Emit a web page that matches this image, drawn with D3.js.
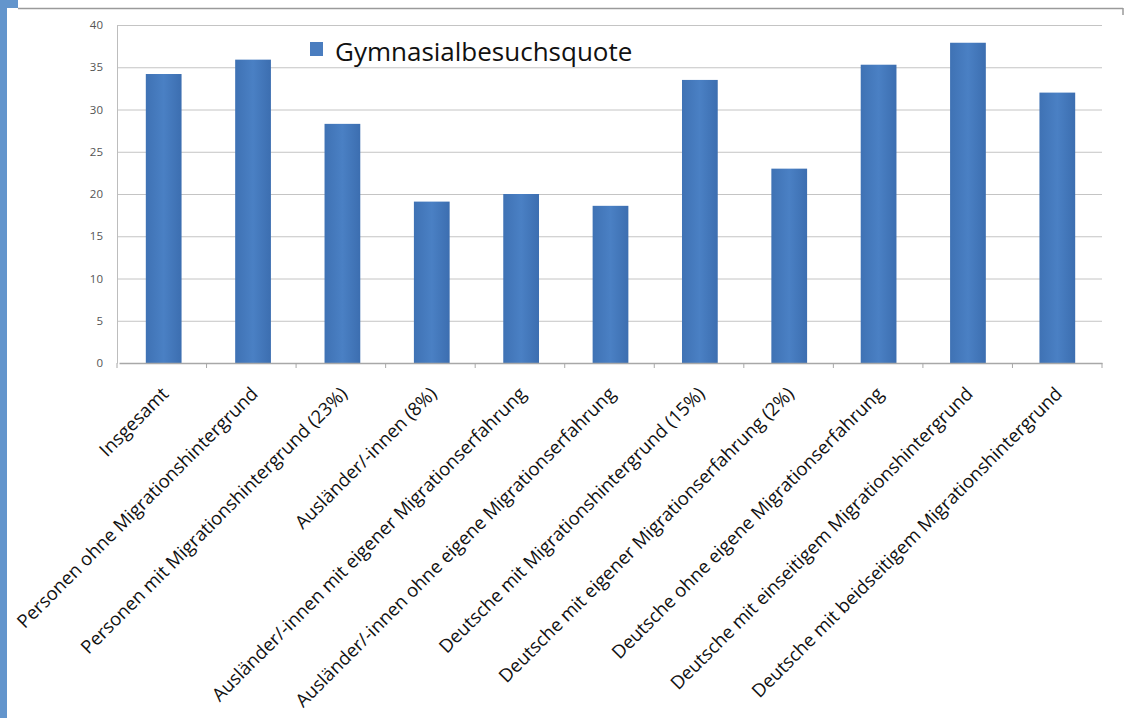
<!DOCTYPE html>
<html>
<head>
<meta charset="utf-8">
<script src="https://cdn.jsdelivr.net/npm/d3@7"></script>
<style>
  body { margin: 0; background: #fff; }
  svg { display: block; }
</style>
</head>
<body>
<svg id="chart" width="1136" height="718"></svg>
<script>
// data
const categories = [
  "Insgesamt",
  "Personen ohne Migrationshintergrund",
  "Personen mit Migrationshintergrund (23%)",
  "Ausländer/-innen (8%)",
  "Ausländer/-innen mit eigener Migrationserfahrung",
  "Ausländer/-innen ohne eigene Migrationserfahrung",
  "Deutsche mit Migrationshintergrund (15%)",
  "Deutsche mit eigener Migrationserfahrung (2%)",
  "Deutsche ohne eigene Migrationserfahrung",
  "Deutsche mit einseitigem Migrationshintergrund",
  "Deutsche mit beidseitigem Migrationshintergrund"
];
const values = [34.2, 35.9, 28.3, 19.1, 20.0, 18.6, 33.5, 23.0, 35.3, 37.9, 32.0];
const yTicks = [0, 5, 10, 15, 20, 25, 30, 35, 40];
const seriesName = "Gymnasialbesuchsquote";

const svg = d3.select("#chart");
const m = { left: 117, right: 1102, top: 25, bottom: 363 };

// frame bits from the screenshot
svg.append("rect").attr("x", 0).attr("y", 0).attr("width", 18).attr("height", 8).attr("fill", "#6395cc");
svg.append("rect").attr("x", 0).attr("y", 0).attr("width", 7).attr("height", 718).attr("fill", "#6395cc");
svg.append("line").attr("x1", 18).attr("x2", 1123).attr("y1", 8.5).attr("y2", 8.5)
  .attr("stroke", "#9a9a9a").attr("stroke-width", 1.5);
svg.append("line").attr("x1", 1123).attr("x2", 1123).attr("y1", 8).attr("y2", 15)
  .attr("stroke", "#9a9a9a").attr("stroke-width", 1.5);

const x = d3.scaleBand().domain(categories).range([m.left + 2, m.right]).paddingInner(0.6).paddingOuter(0.3);
const y = d3.scaleLinear().domain([0, 40]).range([m.bottom, m.top]);

// gridlines
svg.append("g")
  .selectAll("line").data(yTicks.filter(t => t > 0)).join("line")
  .attr("x1", m.left).attr("x2", m.right)
  .attr("y1", d => y(d) + 0.5).attr("y2", d => y(d) + 0.5)
  .attr("stroke", "#c4c4c4").attr("stroke-width", 1);

// y axis
const yAxis = svg.append("g").attr("transform", `translate(${m.left},0)`)
  .call(d3.axisLeft(y).tickValues(yTicks).tickSize(0).tickPadding(14));
yAxis.select(".domain").attr("stroke", "#bdbdbd");
yAxis.selectAll("text").attr("font-family", "Open Sans, sans-serif").attr("font-size", 11.5).attr("fill", "#555");

// bars
const grad = svg.append("defs").append("linearGradient").attr("id", "barGrad")
  .attr("x1", 0).attr("x2", 1).attr("y1", 0).attr("y2", 0);
grad.append("stop").attr("offset", 0).attr("stop-color", "#3f72b4");
grad.append("stop").attr("offset", 0.5).attr("stop-color", "#4a80c4");
grad.append("stop").attr("offset", 1).attr("stop-color", "#3c6eb0");

svg.append("g").selectAll("rect").data(values).join("rect")
  .attr("x", (d, i) => x(categories[i]))
  .attr("width", x.bandwidth())
  .attr("y", d => y(d))
  .attr("height", d => y(0) - y(d))
  .attr("fill", "url(#barGrad)");

// x axis
const xAxis = svg.append("g").attr("transform", `translate(0,${m.bottom})`)
  .call(d3.axisBottom(x).tickSize(0).tickFormat(""));
xAxis.select(".domain").attr("stroke", "#a8a8a8").attr("stroke-width", 1.5);
// tick marks between categories
svg.append("g").selectAll("line").data(d3.range(categories.length + 1)).join("line")
  .attr("x1", i => m.left + i * (m.right - m.left) / categories.length)
  .attr("x2", i => m.left + i * (m.right - m.left) / categories.length)
  .attr("y1", m.bottom).attr("y2", m.bottom + 5)
  .attr("stroke", "#a8a8a8");

svg.append("g").selectAll("text").data(categories).join("text")
  .attr("transform", d => `translate(${x(d) + x.bandwidth() / 2 + 6},${m.bottom + 32}) rotate(-45)`)
  .attr("text-anchor", "end")
  .attr("font-family", "Open Sans, sans-serif")
  .attr("font-size", 18.5)
  .attr("fill", "#111")
  .text(d => d);

// legend
const lg = svg.append("g").attr("transform", "translate(310,42)");
lg.append("rect").attr("width", 13).attr("height", 14).attr("fill", "#4a7dbf");
lg.append("text").attr("x", 25).attr("y", 19)
  .attr("font-family", "Open Sans, sans-serif").attr("font-size", 26).attr("fill", "#111")
  .text(seriesName);
</script>
</body>
</html>
